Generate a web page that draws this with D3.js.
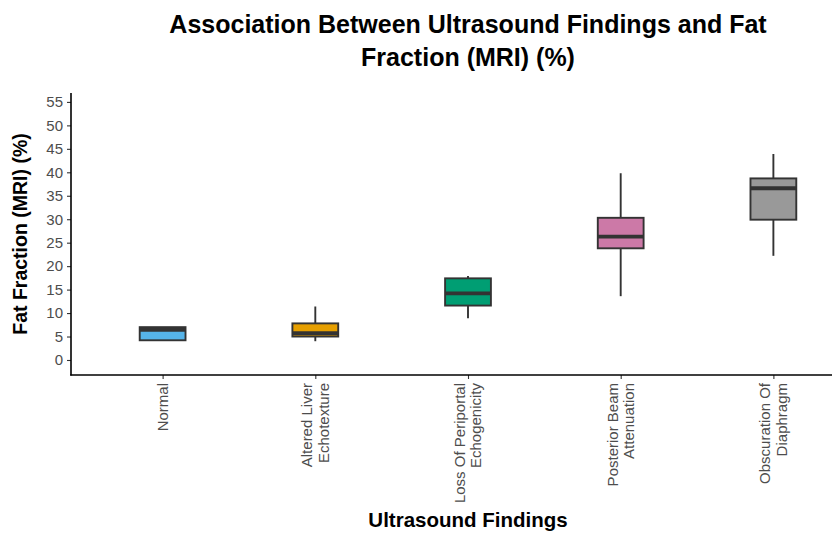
<!DOCTYPE html>
<html>
<head>
<meta charset="utf-8">
<script src="https://cdn.jsdelivr.net/npm/d3@7"></script>
<style>
  html, body { margin: 0; padding: 0; background: #fff; }
  svg { display: block; font-family: "Liberation Sans", Arial, Helvetica, sans-serif; }
</style>
</head>
<body>
<svg id="chart" width="832" height="533"></svg>
<script>
const categories = [
  ["Normal"],
  ["Altered Liver", "Echotexture"],
  ["Loss Of Periportal", "Echogenicity"],
  ["Posterior Beam", "Attenuation"],
  ["Obscuration Of", "Diaphragm"]
];
const categoryKeys = ["Normal", "Altered Liver Echotexture", "Loss Of Periportal Echogenicity", "Posterior Beam Attenuation", "Obscuration Of Diaphragm"];
const whiskerLow  = [4.2, 4.0, 8.9, 13.6, 22.2];
const q1Values    = [4.2, 5.0, 11.6, 23.8, 29.9];
const medians     = [6.4, 5.7, 14.2, 26.3, 36.6];
const q3Values    = [7.0, 7.8, 17.4, 30.3, 38.7];
const whiskerHigh = [7.0, 11.4, 17.9, 39.8, 43.9];
const fillColors  = ["#56B4E9", "#E69F00", "#009E73", "#CC79A7", "#999999"];
const yTicks = [0, 5, 10, 15, 20, 25, 30, 35, 40, 45, 50, 55];

const svg = d3.select("#chart");
const panel = { left: 71, right: 865, top: 93, bottom: 375 };

const step = (panel.right - panel.left) / 5.2;
const x = d3.scalePoint()
  .domain(categoryKeys)
  .range([panel.left + 0.6 * step, panel.right - 0.6 * step]);
const boxW = 0.3 * step;

const y = d3.scaleLinear().domain([-3.2, 56.9]).range([panel.bottom, panel.top]);

const data = categoryKeys.map((k, i) => ({
  key: k, lo: whiskerLow[i], q1: q1Values[i], med: medians[i], q3: q3Values[i], hi: whiskerHigh[i], fill: fillColors[i]
}));

const g = svg.append("g");
const boxes = g.selectAll("g.box").data(data).enter().append("g").attr("class", "box");

boxes.append("line")
  .attr("x1", d => x(d.key)).attr("x2", d => x(d.key))
  .attr("y1", d => y(d.q3)).attr("y2", d => y(d.hi))
  .attr("stroke", "#333333").attr("stroke-width", 1.9);
boxes.append("line")
  .attr("x1", d => x(d.key)).attr("x2", d => x(d.key))
  .attr("y1", d => y(d.q1)).attr("y2", d => y(d.lo))
  .attr("stroke", "#333333").attr("stroke-width", 1.9);
boxes.append("rect")
  .attr("x", d => x(d.key) - boxW / 2)
  .attr("width", boxW)
  .attr("y", d => y(d.q3))
  .attr("height", d => y(d.q1) - y(d.q3))
  .attr("fill", d => d.fill)
  .attr("stroke", "#333333").attr("stroke-width", 1.9);
boxes.append("line")
  .attr("x1", d => x(d.key) - boxW / 2).attr("x2", d => x(d.key) + boxW / 2)
  .attr("y1", d => y(d.med)).attr("y2", d => y(d.med))
  .attr("stroke", "#333333").attr("stroke-width", 3.8);

// Y axis
const yAxis = d3.axisLeft(y).tickValues(yTicks).tickSize(4).tickPadding(4);
const yg = svg.append("g").attr("transform", `translate(${panel.left},0)`).call(yAxis);
yg.select(".domain").remove();
yg.selectAll(".tick line").attr("stroke", "#333333").attr("stroke-width", 1.1);
yg.selectAll(".tick text").attr("fill", "#4d4d4d").style("font-size", "15px")
  .style("font-family", "'Liberation Sans', Arial, sans-serif");
svg.append("line")
  .attr("x1", panel.left).attr("x2", panel.left)
  .attr("y1", panel.top).attr("y2", panel.bottom + 0.6)
  .attr("stroke", "#000").attr("stroke-width", 1.6);

// X axis
const xAxis = d3.axisBottom(x).tickSize(4).tickFormat("");
const xg = svg.append("g").attr("transform", `translate(0,${panel.bottom})`).call(xAxis);
xg.select(".domain").remove();
xg.selectAll(".tick line").attr("stroke", "#333333").attr("stroke-width", 1.1);
svg.append("line")
  .attr("x1", panel.left - 0.8).attr("x2", panel.right)
  .attr("y1", panel.bottom).attr("y2", panel.bottom)
  .attr("stroke", "#000").attr("stroke-width", 1.6);

// X tick labels (rotated, multi-line)
const lineH = 16.3;
categoryKeys.forEach((k, i) => {
  const lines = categories[i];
  const n = lines.length;
  const t = svg.append("text")
    .attr("transform", `translate(${x(k)},${panel.bottom + 8}) rotate(-90)`)
    .attr("text-anchor", "end")
    .attr("fill", "#4d4d4d")
    .style("font-size", "15px");
  lines.forEach((ln, j) => {
    const off = (j - (n - 1) / 2) * lineH;
    t.append("tspan").attr("x", 0).attr("y", off).attr("dy", "0.35em").text(ln);
  });
});

// Titles
const cx = (panel.left + panel.right) / 2;
svg.append("text").attr("x", cx).attr("y", 33).attr("text-anchor", "middle")
  .style("font-size", "25px").style("font-weight", "bold").attr("fill", "#000")
  .text("Association Between Ultrasound Findings and Fat");
svg.append("text").attr("x", cx).attr("y", 66).attr("text-anchor", "middle")
  .style("font-size", "25px").style("font-weight", "bold").attr("fill", "#000")
  .text("Fraction (MRI) (%)");

svg.append("text")
  .attr("transform", `translate(27,${(panel.top + panel.bottom) / 2}) rotate(-90)`)
  .attr("text-anchor", "middle")
  .style("font-size", "19.5px").style("font-weight", "bold").attr("fill", "#000")
  .text("Fat Fraction (MRI) (%)");

svg.append("text").attr("x", cx).attr("y", 527).attr("text-anchor", "middle")
  .style("font-size", "20.5px").style("font-weight", "bold").attr("fill", "#000")
  .text("Ultrasound Findings");
</script>
</body>
</html>
